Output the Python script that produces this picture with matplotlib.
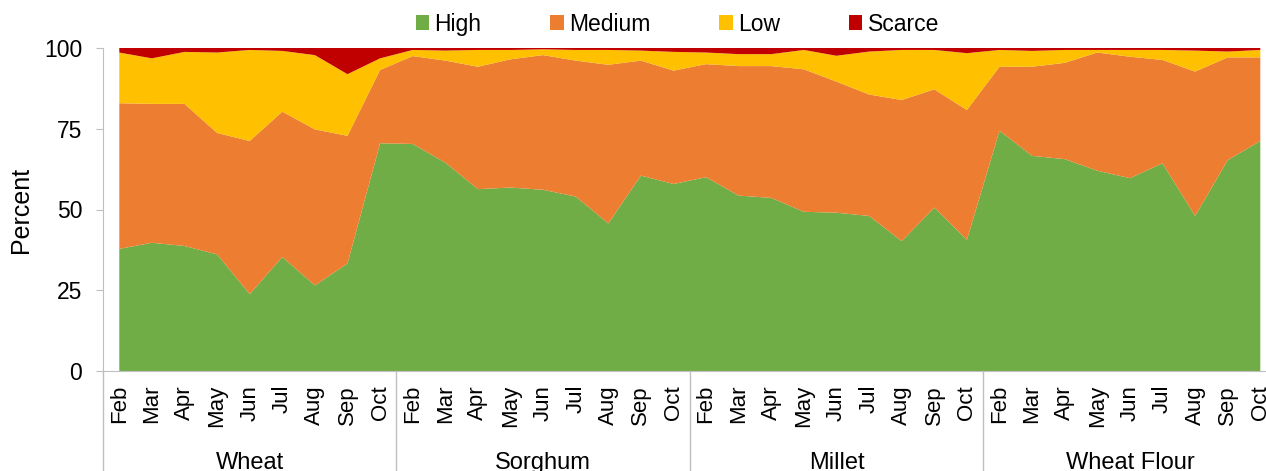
import matplotlib.pyplot as plt
from matplotlib.patches import Patch
import numpy as np

plt.rcParams['font.family'] = ['Liberation Sans', 'DejaVu Sans']

groups = ['Wheat', 'Sorghum', 'Millet', 'Wheat Flour']
months = ['Feb', 'Mar', 'Apr', 'May', 'Jun', 'Jul', 'Aug', 'Sep', 'Oct']

# cumulative tops (percent)
high = [37.8, 39.7, 38.7, 36.1, 23.8, 35.3, 26.5, 33.3, 70.5,
        70.3, 64.5, 56.3, 56.8, 56.1, 54.0, 45.7, 60.5, 57.9,
        60.0, 54.3, 53.6, 49.3, 49.0, 48.0, 40.2, 50.6, 40.6,
        74.4, 66.6, 65.6, 62.0, 59.7, 64.3, 48.0, 65.3, 71.2]
high_medium = [82.9, 82.7, 82.7, 73.7, 71.2, 80.3, 74.8, 72.8, 93.2,
               97.5, 96.1, 94.2, 96.5, 97.8, 96.1, 94.8, 96.1, 93.0,
               95.0, 94.4, 94.4, 93.4, 89.6, 85.6, 83.9, 87.2, 80.8,
               94.2, 94.2, 95.4, 98.6, 97.3, 96.3, 92.7, 97.1, 97.1]
high_medium_low = [98.6, 96.8, 98.8, 98.6, 99.4, 99.1, 97.8, 91.9, 96.8,
                   99.4, 99.2, 99.4, 99.4, 99.6, 99.4, 99.4, 99.2, 98.8,
                   98.6, 98.1, 98.1, 99.4, 97.6, 98.9, 99.4, 99.4, 98.4,
                   99.4, 99.1, 99.4, 99.4, 99.4, 99.4, 99.2, 98.9, 99.4]

high = np.array(high)
medium = np.array(high_medium) - high
low = np.array(high_medium_low) - np.array(high_medium)
scarce = 100 - np.array(high_medium_low)

labels = ['High', 'Medium', 'Low', 'Scarce']
colors = ['#70AD47', '#ED7D31', '#FFC000', '#C00000']

fig = plt.figure(figsize=(12.66, 4.71), dpi=100)
ax = fig.add_axes([103 / 1266, 1 - 371 / 471, 1173.6 / 1266, 323 / 471])

x = np.arange(len(high))
ax.stackplot(x, high, medium, low, scarce, colors=colors, linewidth=0)

ax.set_xlim(-0.5, len(high) - 0.5)
ax.set_ylim(0, 100)
ax.set_yticks([0, 25, 50, 75, 100])
ax.tick_params(axis='y', direction='out', length=5, color='#BFBFBF', labelsize=16.5, pad=10)
ax.set_ylabel('Percent', fontsize=18, labelpad=8)

ax.set_xticks(x)
ax.set_xticklabels(months * len(groups), rotation=90, fontsize=16)
ax.tick_params(axis='x', length=0, pad=10)

for side in ['top', 'right']:
    ax.spines[side].set_visible(False)
for side in ['left', 'bottom']:
    ax.spines[side].set_color('#BFBFBF')

trans = ax.get_xaxis_transform()
for i in range(len(groups)):
    ax.plot([i * 9 - 0.5, i * 9 - 0.5], [0, -0.32], color='#BFBFBF', lw=1,
            transform=trans, clip_on=False)
    ax.text(i * 9 + 4, -0.285, groups[i], transform=trans, ha='center', va='center', fontsize=17)

handles = [Patch(facecolor=c, label=l) for c, l in zip(colors, labels)]
fig.legend(handles=handles, loc='center', bbox_to_anchor=(0.535, 0.949), ncol=4, frameon=False,
           fontsize=16.5, handlelength=0.6, handleheight=0.6, handletextpad=0.22, columnspacing=3.0)

plt.savefig('out.png', dpi=100)
